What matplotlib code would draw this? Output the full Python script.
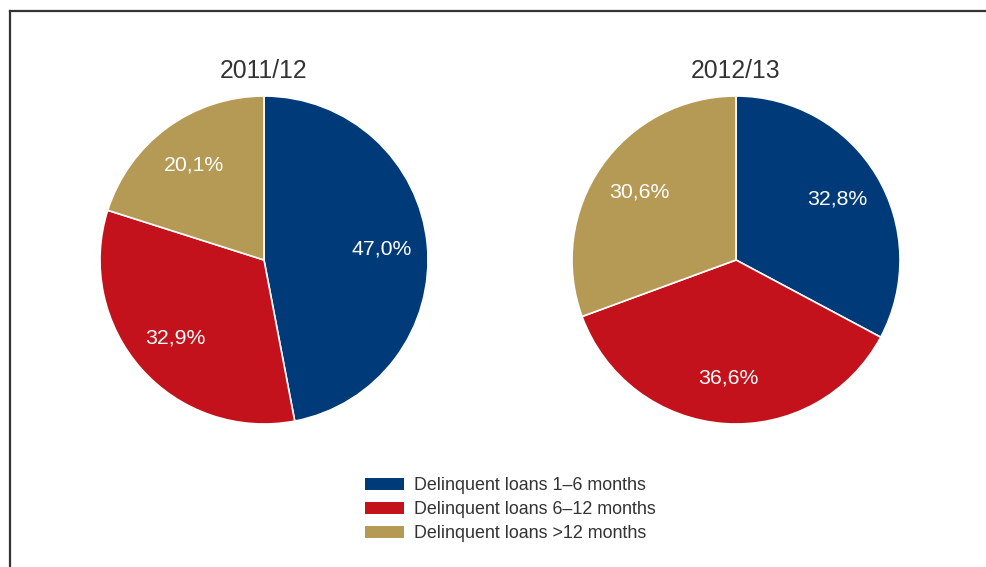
import numpy as np
import matplotlib
matplotlib.use('Agg')
import matplotlib.pyplot as plt
from matplotlib.patches import Patch
from matplotlib.lines import Line2D

plt.rcParams['font.family'] = ['Liberation Sans', 'DejaVu Sans']

# data
years = ['2011/12', '2012/13']
categories = ['Delinquent loans 1–6 months',
              'Delinquent loans 6–12 months',
              'Delinquent loans >12 months']
shares_2011 = [47.0, 32.9, 20.1]
shares_2012 = [32.8, 36.6, 30.6]

colors = ['#003a78', '#c3121b', '#b59a55']
W, H = 987, 567

fig = plt.figure(figsize=(W / 100, H / 100), dpi=100)

def pct_fmt(p):
    return f'{p:.1f}%'.replace('.', ',')

# pie boxes in pixels (left, top, size)
boxes = [(100, 96, 328), (572, 96, 328)]
for (x0, y0, s), year, vals in zip(boxes, years, [shares_2011, shares_2012]):
    ax = fig.add_axes([x0 / W, 1 - (y0 + s) / H, s / W, s / H])
    wedges, texts, autotexts = ax.pie(
        vals, colors=colors, startangle=90, counterclock=False,
        autopct=pct_fmt, pctdistance=0.72,
        wedgeprops=dict(edgecolor='white', linewidth=1.2),
        textprops=dict(color='white', fontsize=15.3))
    ax.set_xlim(-1, 1)
    ax.set_ylim(-1, 1)
    ax.set_aspect('equal')
    ax.axis('off')
    fig.text((x0 + s / 2) / W, 1 - 71 / H, year, ha='center', va='center',
             fontsize=17.8, color='#333333')

# legend
handles = [Patch(facecolor=c, edgecolor='none') for c in colors]
fig.legend(handles, categories, loc='upper left',
           bbox_to_anchor=(349 / W, 1 - 461 / H), frameon=False,
           fontsize=12.9, handlelength=2.18, handleheight=0.7,
           handletextpad=0.56, labelspacing=0.4, labelcolor='#333333')

# frame lines top and left
fig.add_artist(Line2D([10 / W, 10 / W], [0, 1 - 11 / H], color='#333333', lw=1.6))
fig.add_artist(Line2D([10 / W, 1], [1 - 11 / H, 1 - 11 / H], color='#333333', lw=1.6))

fig.savefig('out.png', dpi=100)
